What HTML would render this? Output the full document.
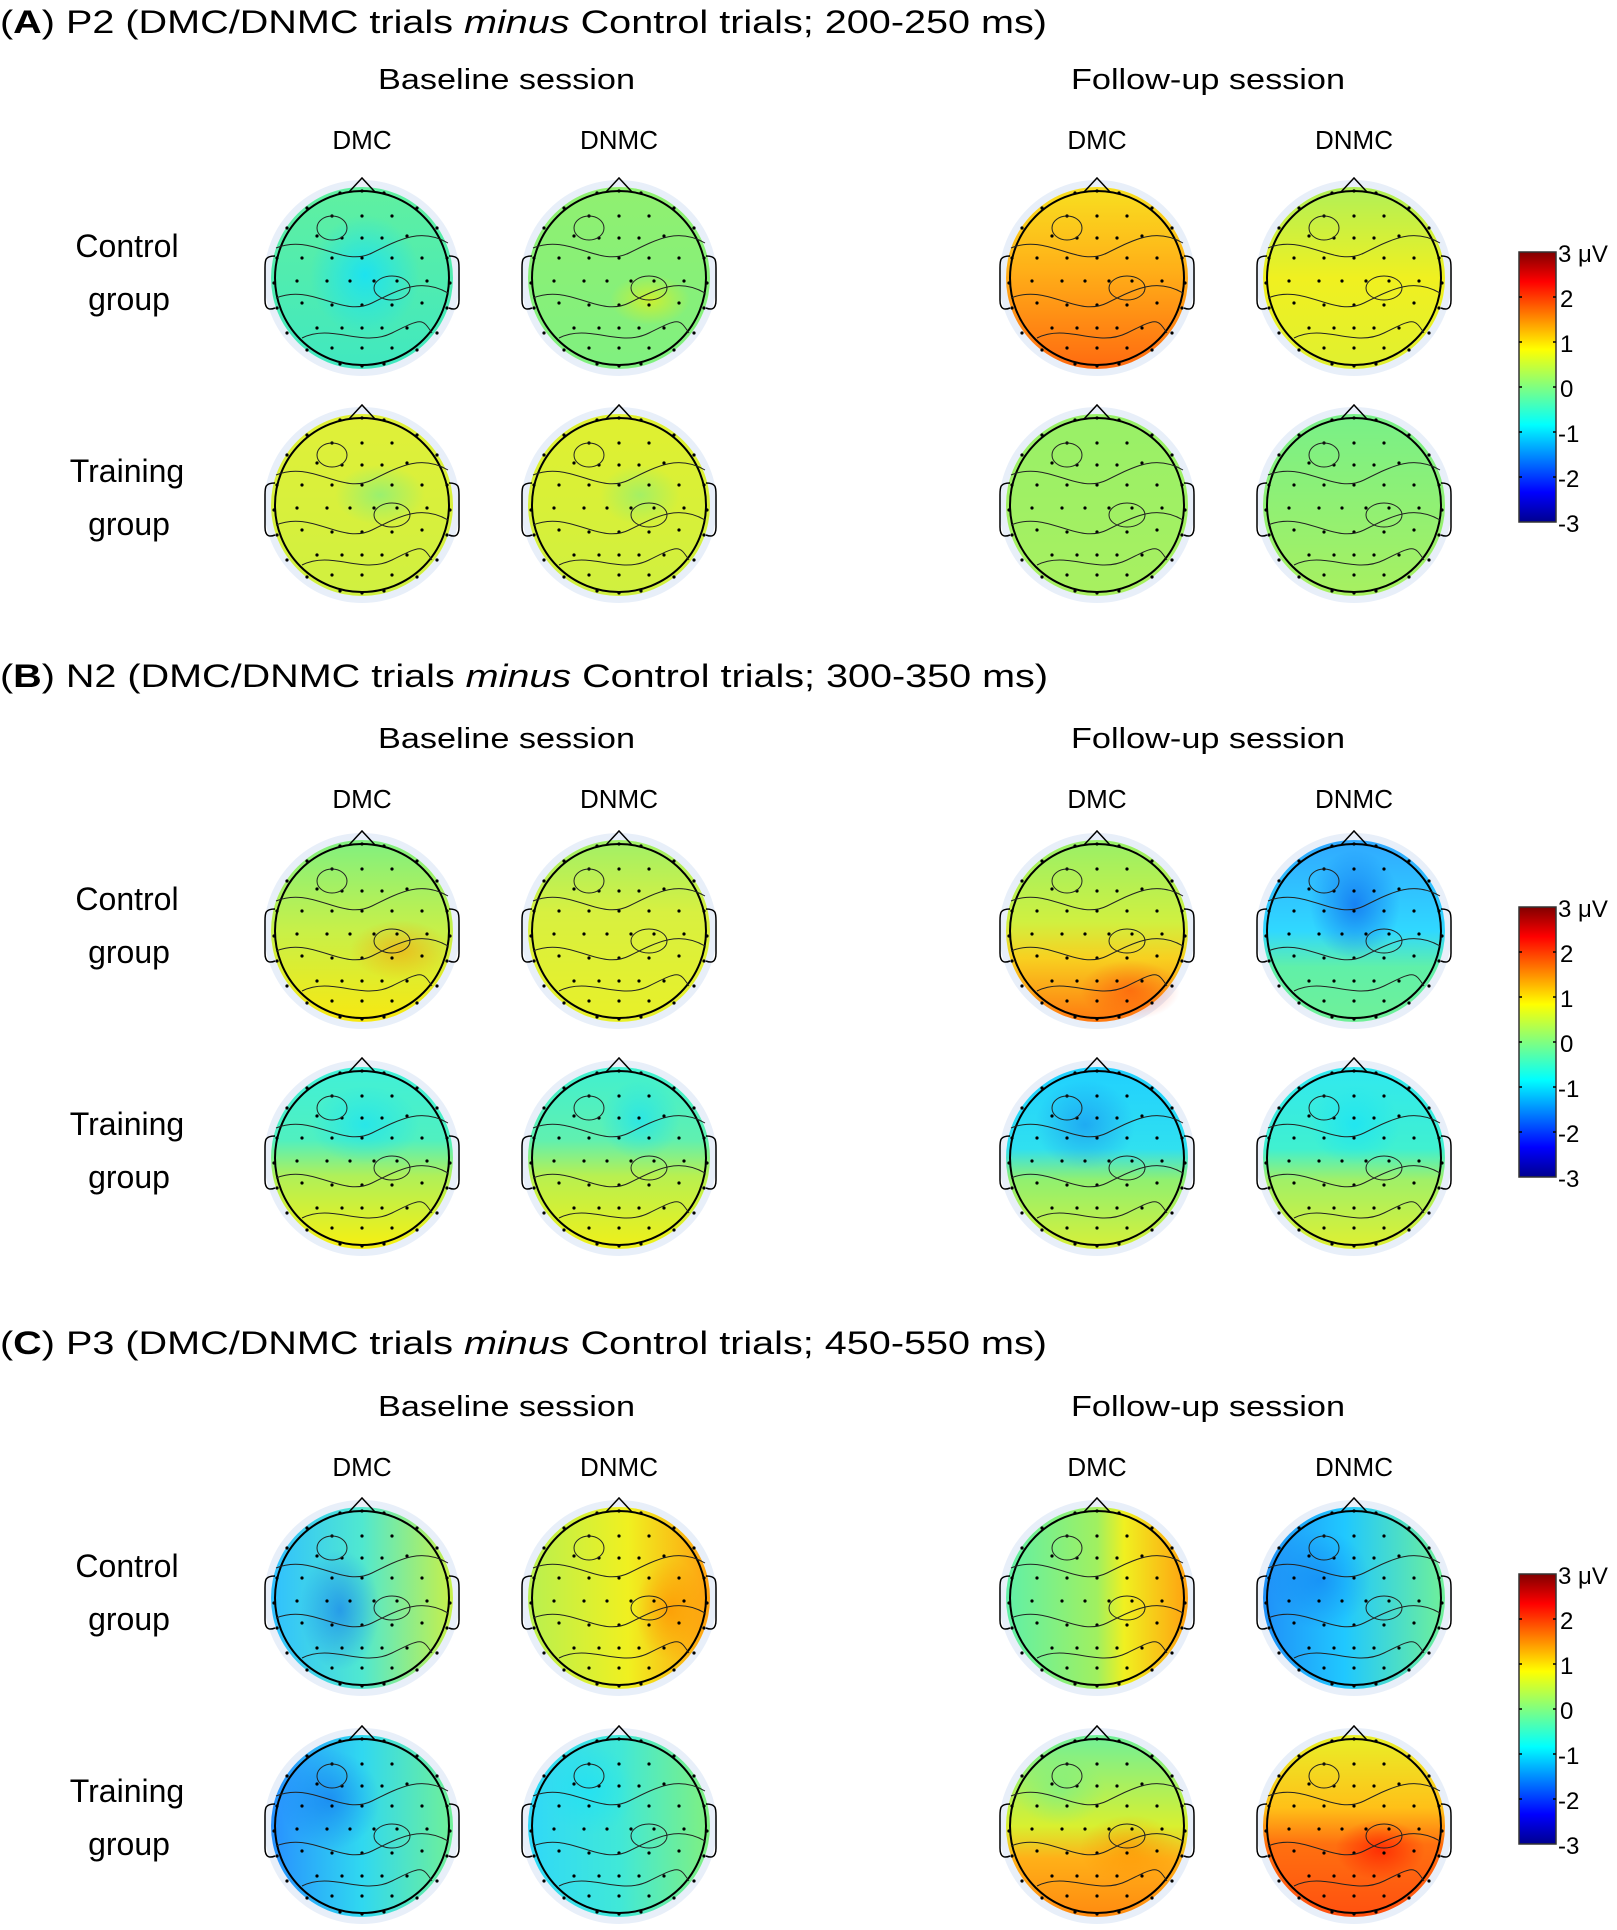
<!DOCTYPE html>
<html><head><meta charset="utf-8"><style>
html,body{margin:0;padding:0;background:#fff;}
svg{display:block;}
text{font-family:"Liberation Sans",Arial,sans-serif;fill:#000;}
</style></head><body>
<svg width="1617" height="1930" viewBox="0 0 1617 1930" xmlns="http://www.w3.org/2000/svg">
<defs>
<linearGradient id="jet" x1="0" y1="1" x2="0" y2="0">
<stop offset="0" stop-color="#00008f"/><stop offset="0.11" stop-color="#0000ff"/><stop offset="0.36" stop-color="#00ffff"/><stop offset="0.5" stop-color="#80ff80"/><stop offset="0.64" stop-color="#ffff00"/><stop offset="0.89" stop-color="#ff0000"/><stop offset="1" stop-color="#800000"/>
</linearGradient>
<radialGradient id="bCyan"><stop offset="0" stop-color="#10e0ff"/><stop offset="1" stop-color="#10e0ff" stop-opacity="0"/></radialGradient>
<radialGradient id="bBlue"><stop offset="0" stop-color="#1070f0"/><stop offset="1" stop-color="#1070f0" stop-opacity="0"/></radialGradient>
<radialGradient id="bOrange"><stop offset="0" stop-color="#ff9000"/><stop offset="1" stop-color="#ff9000" stop-opacity="0"/></radialGradient>
<radialGradient id="bRed"><stop offset="0" stop-color="#ff2000"/><stop offset="1" stop-color="#ff2000" stop-opacity="0"/></radialGradient>
<radialGradient id="bGreen"><stop offset="0" stop-color="#70f090"/><stop offset="1" stop-color="#70f090" stop-opacity="0"/></radialGradient>
<radialGradient id="bYellow"><stop offset="0" stop-color="#f8f000"/><stop offset="1" stop-color="#f8f000" stop-opacity="0"/></radialGradient>

<linearGradient id="a11" x1="0" y1="0" x2="0" y2="1"><stop offset="0" stop-color="#60f0a0"/><stop offset="1" stop-color="#40e8c0"/></linearGradient>
<linearGradient id="a12" x1="0" y1="0" x2="0" y2="1"><stop offset="0" stop-color="#90f070"/><stop offset="1" stop-color="#80f080"/></linearGradient>
<linearGradient id="a13" x1="0" y1="0" x2="0" y2="1"><stop offset="0" stop-color="#f8e020"/><stop offset="0.45" stop-color="#ffb018"/><stop offset="1" stop-color="#ff6a10"/></linearGradient>
<linearGradient id="a14" x1="0" y1="0" x2="0" y2="1"><stop offset="0" stop-color="#b0f058"/><stop offset="0.5" stop-color="#f0f020"/><stop offset="1" stop-color="#e0f030"/></linearGradient>
<linearGradient id="a21" x1="0" y1="0" x2="0" y2="1"><stop offset="0" stop-color="#e0f038"/><stop offset="1" stop-color="#d0f040"/></linearGradient>
<linearGradient id="a22" x1="0" y1="0" x2="0" y2="1"><stop offset="0" stop-color="#e0f030"/><stop offset="1" stop-color="#d0f040"/></linearGradient>
<linearGradient id="a23" x1="0" y1="0" x2="0" y2="1"><stop offset="0" stop-color="#98f068"/><stop offset="1" stop-color="#a8f060"/></linearGradient>
<linearGradient id="a24" x1="0" y1="0" x2="0" y2="1"><stop offset="0" stop-color="#78f088"/><stop offset="1" stop-color="#a8f060"/></linearGradient>

<linearGradient id="b11" x1="0" y1="0" x2="0" y2="1"><stop offset="0" stop-color="#80f080"/><stop offset="0.5" stop-color="#c8f048"/><stop offset="1" stop-color="#f8e810"/></linearGradient>
<linearGradient id="b12" x1="0" y1="0" x2="0" y2="1"><stop offset="0" stop-color="#a0f068"/><stop offset="0.4" stop-color="#d8f040"/><stop offset="1" stop-color="#e8f028"/></linearGradient>
<linearGradient id="b13" x1="0" y1="0" x2="0" y2="1"><stop offset="0" stop-color="#98f068"/><stop offset="0.45" stop-color="#d0f040"/><stop offset="0.65" stop-color="#f8d020"/><stop offset="1" stop-color="#ff7810"/></linearGradient>
<linearGradient id="b14" x1="0" y1="0" x2="0" y2="1"><stop offset="0" stop-color="#30a8ff"/><stop offset="0.5" stop-color="#30d8ff"/><stop offset="0.7" stop-color="#60f0a8"/><stop offset="1" stop-color="#70f098"/></linearGradient>
<linearGradient id="b21" x1="0" y1="0" x2="0" y2="1"><stop offset="0" stop-color="#40f0d8"/><stop offset="0.4" stop-color="#50f0c0"/><stop offset="0.6" stop-color="#b0f058"/><stop offset="1" stop-color="#f8f010"/></linearGradient>
<linearGradient id="b22" x1="0" y1="0" x2="0" y2="1"><stop offset="0" stop-color="#40f0d0"/><stop offset="0.4" stop-color="#60f0b0"/><stop offset="0.6" stop-color="#b8f050"/><stop offset="1" stop-color="#f0f018"/></linearGradient>
<linearGradient id="b23" x1="0" y1="0" x2="0" y2="1"><stop offset="0" stop-color="#20d0ff"/><stop offset="0.45" stop-color="#30e0f0"/><stop offset="0.62" stop-color="#90f070"/><stop offset="1" stop-color="#d8f038"/></linearGradient>
<linearGradient id="b24" x1="0" y1="0" x2="0" y2="1"><stop offset="0" stop-color="#30e8f0"/><stop offset="0.45" stop-color="#40f0d0"/><stop offset="0.62" stop-color="#a0f068"/><stop offset="1" stop-color="#e0f030"/></linearGradient>

<linearGradient id="c11" x1="0" y1="0" x2="1" y2="0"><stop offset="0" stop-color="#30c0ff"/><stop offset="0.5" stop-color="#50e8d0"/><stop offset="1" stop-color="#c8f048"/></linearGradient>
<linearGradient id="c12" x1="0" y1="0" x2="1" y2="0"><stop offset="0" stop-color="#b8f050"/><stop offset="0.55" stop-color="#f0f020"/><stop offset="1" stop-color="#ffa010"/></linearGradient>
<linearGradient id="c13" x1="0" y1="0" x2="1" y2="0"><stop offset="0" stop-color="#60f0a8"/><stop offset="0.5" stop-color="#a0f060"/><stop offset="0.65" stop-color="#f0f020"/><stop offset="1" stop-color="#ffa010"/></linearGradient>
<linearGradient id="c14" x1="0" y1="0" x2="1" y2="0"><stop offset="0" stop-color="#2090f8"/><stop offset="0.45" stop-color="#20c8ff"/><stop offset="1" stop-color="#70f098"/></linearGradient>
<linearGradient id="c21" x1="0" y1="0" x2="1" y2="0"><stop offset="0" stop-color="#2890ff"/><stop offset="0.5" stop-color="#30d8f0"/><stop offset="1" stop-color="#70f098"/></linearGradient>
<linearGradient id="c22" x1="0" y1="0" x2="1" y2="0"><stop offset="0" stop-color="#30d8f8"/><stop offset="0.5" stop-color="#40e8d8"/><stop offset="1" stop-color="#80f080"/></linearGradient>
<linearGradient id="c23" x1="0" y1="0" x2="0" y2="1"><stop offset="0" stop-color="#70f098"/><stop offset="0.5" stop-color="#d8f030"/><stop offset="0.68" stop-color="#ffb018"/><stop offset="1" stop-color="#ff8a10"/></linearGradient>
<linearGradient id="c24" x1="0" y1="0" x2="0" y2="1"><stop offset="0" stop-color="#e8f028"/><stop offset="0.4" stop-color="#ffc018"/><stop offset="0.6" stop-color="#ff7010"/><stop offset="1" stop-color="#ff5010"/></linearGradient>

<g id="frame">
<circle r="87" fill="none" stroke="#000" stroke-width="2"/>
<path d="M-13,-86 L0,-100 L13,-86" fill="none" stroke="#000" stroke-width="1.5"/>
<path d="M-87,-22 C-97,-22 -97,-18 -97,-10 L-97,22 C-97,32 -92,32 -87,30" fill="none" stroke="#000" stroke-width="1.5"/>
<path d="M87,-22 C97,-22 97,-18 97,-10 L97,22 C97,32 92,32 87,30" fill="none" stroke="#000" stroke-width="1.5"/>
<g fill="#000">
<circle cx="-22" cy="-85" r="1.6"/><circle cx="0" cy="-87" r="1.6"/><circle cx="22" cy="-85" r="1.6"/>
<circle cx="-55" cy="-70" r="1.6"/><circle cx="-30" cy="-62" r="1.6"/><circle cx="0" cy="-62" r="1.6"/><circle cx="30" cy="-62" r="1.6"/><circle cx="55" cy="-70" r="1.6"/>
<circle cx="-75" cy="-50" r="1.6"/><circle cx="-45" cy="-42" r="1.6"/><circle cx="-20" cy="-40" r="1.6"/><circle cx="0" cy="-40" r="1.6"/><circle cx="20" cy="-40" r="1.6"/><circle cx="45" cy="-42" r="1.6"/><circle cx="75" cy="-50" r="1.6"/>
<circle cx="-85" cy="-20" r="1.6"/><circle cx="-60" cy="-20" r="1.6"/><circle cx="-30" cy="-20" r="1.6"/><circle cx="0" cy="-20" r="1.6"/><circle cx="30" cy="-20" r="1.6"/><circle cx="60" cy="-20" r="1.6"/><circle cx="85" cy="-20" r="1.6"/>
<circle cx="-88" cy="5" r="1.6"/><circle cx="-65" cy="3" r="1.6"/><circle cx="-35" cy="3" r="1.6"/><circle cx="-12" cy="3" r="1.6"/><circle cx="12" cy="3" r="1.6"/><circle cx="35" cy="3" r="1.6"/><circle cx="65" cy="3" r="1.6"/><circle cx="88" cy="5" r="1.6"/>
<circle cx="-85" cy="30" r="1.6"/><circle cx="-60" cy="25" r="1.6"/><circle cx="-30" cy="27" r="1.6"/><circle cx="0" cy="27" r="1.6"/><circle cx="30" cy="27" r="1.6"/><circle cx="60" cy="25" r="1.6"/><circle cx="85" cy="30" r="1.6"/>
<circle cx="-75" cy="55" r="1.6"/><circle cx="-45" cy="50" r="1.6"/><circle cx="-20" cy="50" r="1.6"/><circle cx="0" cy="50" r="1.6"/><circle cx="20" cy="50" r="1.6"/><circle cx="45" cy="50" r="1.6"/><circle cx="75" cy="55" r="1.6"/>
<circle cx="-55" cy="72" r="1.6"/><circle cx="-30" cy="70" r="1.6"/><circle cx="0" cy="70" r="1.6"/><circle cx="30" cy="70" r="1.6"/><circle cx="55" cy="72" r="1.6"/>
<circle cx="-22" cy="86" r="1.6"/><circle cx="0" cy="88" r="1.6"/><circle cx="22" cy="86" r="1.6"/>
</g>
<g fill="none" stroke="#222" stroke-width="1">
<path d="M-86,-30 C-50,-45 -20,-10 10,-25 S60,-50 86,-35"/>
<path d="M-86,20 C-50,5 -20,40 10,25 S60,0 86,15"/>
<path d="M-60,60 C-30,45 0,70 30,55 S60,40 70,55"/>
<ellipse cx="-30" cy="-50" rx="15" ry="12"/>
<ellipse cx="30" cy="10" rx="18" ry="12"/>
</g>
</g>
</defs>

<text x="0" y="33" font-size="32" textLength="1047" lengthAdjust="spacingAndGlyphs">(<tspan font-weight="bold">A</tspan>) P2 (DMC/DNMC trials <tspan font-style="italic">minus</tspan> Control trials; 200-250 ms)</text>
<text x="0" y="687" font-size="32" textLength="1048" lengthAdjust="spacingAndGlyphs">(<tspan font-weight="bold">B</tspan>) N2 (DMC/DNMC trials <tspan font-style="italic">minus</tspan> Control trials; 300-350 ms)</text>
<text x="0" y="1354" font-size="32" textLength="1047" lengthAdjust="spacingAndGlyphs">(<tspan font-weight="bold">C</tspan>) P3 (DMC/DNMC trials <tspan font-style="italic">minus</tspan> Control trials; 450-550 ms)</text>

<g font-size="29">
<text x="378" y="89" textLength="257" lengthAdjust="spacingAndGlyphs">Baseline session</text>
<text x="1071" y="89" textLength="274" lengthAdjust="spacingAndGlyphs">Follow-up session</text>
<text x="378" y="748" textLength="257" lengthAdjust="spacingAndGlyphs">Baseline session</text>
<text x="1071" y="748" textLength="274" lengthAdjust="spacingAndGlyphs">Follow-up session</text>
<text x="378" y="1416" textLength="257" lengthAdjust="spacingAndGlyphs">Baseline session</text>
<text x="1071" y="1416" textLength="274" lengthAdjust="spacingAndGlyphs">Follow-up session</text>
</g>
<g font-size="26" text-anchor="middle">
<text x="362" y="149">DMC</text><text x="619" y="149">DNMC</text><text x="1097" y="149">DMC</text><text x="1354" y="149">DNMC</text>
<text x="362" y="808">DMC</text><text x="619" y="808">DNMC</text><text x="1097" y="808">DMC</text><text x="1354" y="808">DNMC</text>
<text x="362" y="1476">DMC</text><text x="619" y="1476">DNMC</text><text x="1097" y="1476">DMC</text><text x="1354" y="1476">DNMC</text>
</g>
<g font-size="32" text-anchor="middle">
<text x="127" y="257">Control</text><text x="129" y="310">group</text>
<text x="127" y="482">Training</text><text x="129" y="535">group</text>
<text x="127" y="910">Control</text><text x="129" y="963">group</text>
<text x="127" y="1135">Training</text><text x="129" y="1188">group</text>
<text x="127" y="1577">Control</text><text x="129" y="1630">group</text>
<text x="127" y="1802">Training</text><text x="129" y="1855">group</text>
</g>

<g fill="#e8eff9">
<circle cx="362" cy="278" r="98"/><circle cx="619" cy="278" r="98"/><circle cx="1097" cy="278" r="98"/><circle cx="1354" cy="278" r="98"/>
<circle cx="362" cy="505" r="98"/><circle cx="619" cy="505" r="98"/><circle cx="1097" cy="505" r="98"/><circle cx="1354" cy="505" r="98"/>
<circle cx="362" cy="931" r="98"/><circle cx="619" cy="931" r="98"/><circle cx="1097" cy="931" r="98"/><circle cx="1354" cy="931" r="98"/>
<circle cx="362" cy="1158" r="98"/><circle cx="619" cy="1158" r="98"/><circle cx="1097" cy="1158" r="98"/><circle cx="1354" cy="1158" r="98"/>
<circle cx="362" cy="1598" r="98"/><circle cx="619" cy="1598" r="98"/><circle cx="1097" cy="1598" r="98"/><circle cx="1354" cy="1598" r="98"/>
<circle cx="362" cy="1826" r="98"/><circle cx="619" cy="1826" r="98"/><circle cx="1097" cy="1826" r="98"/><circle cx="1354" cy="1826" r="98"/>
</g>

<circle cx="362" cy="278" r="91" fill="url(#a11)"/><ellipse cx="365" cy="275" rx="55" ry="60" fill="url(#bCyan)" opacity="0.8"/>
<circle cx="619" cy="278" r="91" fill="url(#a12)"/><ellipse cx="650" cy="300" rx="40" ry="25" fill="url(#bYellow)" opacity="0.6"/>
<circle cx="1097" cy="278" r="91" fill="url(#a13)"/>
<circle cx="1354" cy="278" r="91" fill="url(#a14)"/>
<circle cx="362" cy="505" r="91" fill="url(#a21)"/><ellipse cx="380" cy="495" rx="45" ry="30" fill="url(#bGreen)" opacity="0.6"/>
<circle cx="619" cy="505" r="91" fill="url(#a22)"/><ellipse cx="640" cy="495" rx="40" ry="30" fill="url(#bGreen)" opacity="0.5"/>
<circle cx="1097" cy="505" r="91" fill="url(#a23)"/>
<circle cx="1354" cy="505" r="91" fill="url(#a24)"/>

<circle cx="362" cy="931" r="91" fill="url(#b11)"/><ellipse cx="400" cy="950" rx="50" ry="30" fill="url(#bOrange)" opacity="0.5"/>
<circle cx="619" cy="931" r="91" fill="url(#b12)"/>
<circle cx="1097" cy="931" r="91" fill="url(#b13)"/><ellipse cx="1130" cy="990" rx="50" ry="30" fill="url(#bRed)" opacity="0.4"/>
<circle cx="1354" cy="931" r="91" fill="url(#b14)"/><ellipse cx="1355" cy="905" rx="45" ry="55" fill="url(#bBlue)" opacity="0.8"/>
<circle cx="362" cy="1158" r="91" fill="url(#b21)"/><ellipse cx="365" cy="1125" rx="55" ry="40" fill="url(#bCyan)" opacity="0.6"/>
<circle cx="619" cy="1158" r="91" fill="url(#b22)"/><ellipse cx="640" cy="1120" rx="40" ry="40" fill="url(#bCyan)" opacity="0.6"/>
<circle cx="1097" cy="1158" r="91" fill="url(#b23)"/><ellipse cx="1085" cy="1125" rx="50" ry="45" fill="url(#bBlue)" opacity="0.45"/>
<circle cx="1354" cy="1158" r="91" fill="url(#b24)"/><ellipse cx="1355" cy="1125" rx="45" ry="40" fill="url(#bCyan)" opacity="0.6"/>

<circle cx="362" cy="1598" r="91" fill="url(#c11)"/><ellipse cx="340" cy="1610" rx="40" ry="60" fill="url(#bBlue)" opacity="0.6"/>
<circle cx="619" cy="1598" r="91" fill="url(#c12)"/><ellipse cx="670" cy="1610" rx="35" ry="50" fill="url(#bOrange)" opacity="0.7"/>
<circle cx="1097" cy="1598" r="91" fill="url(#c13)"/>
<circle cx="1354" cy="1598" r="91" fill="url(#c14)"/><ellipse cx="1320" cy="1580" rx="50" ry="50" fill="url(#bBlue)" opacity="0.5"/>
<circle cx="362" cy="1826" r="91" fill="url(#c21)"/><ellipse cx="330" cy="1800" rx="50" ry="50" fill="url(#bBlue)" opacity="0.6"/>
<circle cx="619" cy="1826" r="91" fill="url(#c22)"/><ellipse cx="590" cy="1790" rx="45" ry="45" fill="url(#bCyan)" opacity="0.5"/>
<circle cx="1097" cy="1826" r="91" fill="url(#c23)"/><ellipse cx="1060" cy="1790" rx="45" ry="35" fill="url(#bGreen)" opacity="0.6"/><ellipse cx="1130" cy="1850" rx="50" ry="35" fill="url(#bOrange)" opacity="0.6"/>
<circle cx="1354" cy="1826" r="91" fill="url(#c24)"/><ellipse cx="1380" cy="1850" rx="45" ry="30" fill="url(#bRed)" opacity="0.8"/>

<use href="#frame" x="362" y="278"/><use href="#frame" x="619" y="278"/><use href="#frame" x="1097" y="278"/><use href="#frame" x="1354" y="278"/>
<use href="#frame" x="362" y="505"/><use href="#frame" x="619" y="505"/><use href="#frame" x="1097" y="505"/><use href="#frame" x="1354" y="505"/>
<use href="#frame" x="362" y="931"/><use href="#frame" x="619" y="931"/><use href="#frame" x="1097" y="931"/><use href="#frame" x="1354" y="931"/>
<use href="#frame" x="362" y="1158"/><use href="#frame" x="619" y="1158"/><use href="#frame" x="1097" y="1158"/><use href="#frame" x="1354" y="1158"/>
<use href="#frame" x="362" y="1598"/><use href="#frame" x="619" y="1598"/><use href="#frame" x="1097" y="1598"/><use href="#frame" x="1354" y="1598"/>
<use href="#frame" x="362" y="1826"/><use href="#frame" x="619" y="1826"/><use href="#frame" x="1097" y="1826"/><use href="#frame" x="1354" y="1826"/>

<g id="cbA">
<rect x="1519" y="252" width="37" height="270" fill="url(#jet)" stroke="#333" stroke-width="1.5"/>
<g stroke="#000" stroke-width="1.5"><path d="M1553,297h3M1553,342h3M1553,387h3M1553,432h3M1553,477h3M1519,297h3M1519,342h3M1519,387h3M1519,432h3M1519,477h3"/></g>
<g font-size="24"><text x="1558" y="262">3 μV</text><text x="1560" y="307">2</text><text x="1560" y="352">1</text><text x="1560" y="397">0</text><text x="1558" y="442">-1</text><text x="1558" y="487">-2</text><text x="1558" y="532">-3</text></g>
</g>
<use href="#cbA" y="655"/>
<use href="#cbA" y="1322"/>
</svg>
</body></html>
